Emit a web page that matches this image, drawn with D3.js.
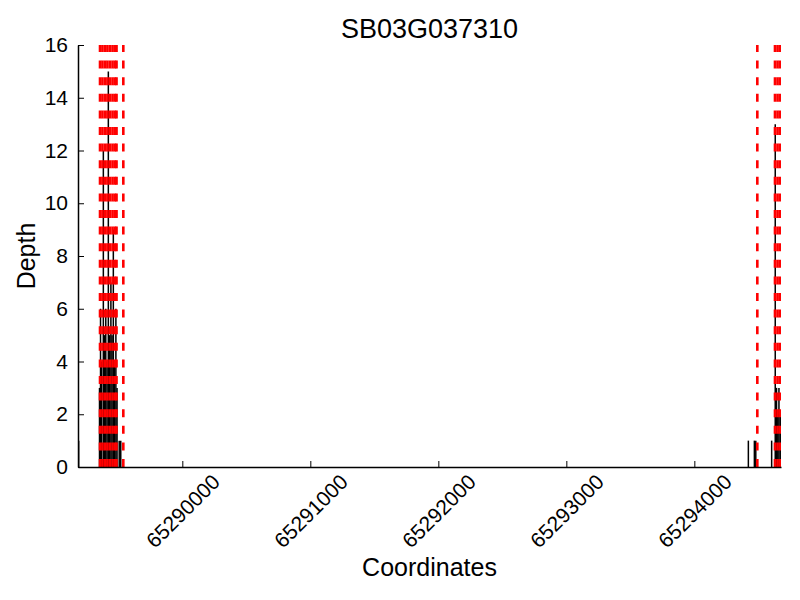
<!DOCTYPE html>
<html>
<head>
<meta charset="utf-8">
<script src="https://cdn.jsdelivr.net/npm/d3@7"></script>
<style>
  body { margin: 0; background: #fff; }
  svg { font-family: "Liberation Sans", Arial, sans-serif; }
</style>
</head>
<body>
<div id="chart"></div>
<script>
//Depth of coverage along the gene, with red dashed marker positions

var title = "SB03G037310";
var xDomain = [65289185, 65294677];
var xTicks = [65290000, 65291000, 65292000, 65293000, 65294000];
var yTicks = [0, 2, 4, 6, 8, 10, 12, 14, 16];

//coverage spikes: position and depth
var positions = [
  65289190,
  65289353, 65289361, 65289369, 65289383, 65289392, 65289402, 65289412,
  65289422, 65289431, 65289442, 65289451, 65289461, 65289470, 65289481,
  65289490, 65289507, 65289519,
  65294422, 65294469, 65294480, 65294604, 65294632, 65294642, 65294652,
  65294661, 65294671
];
var depths = [
  1,
  3, 6, 4, 12, 5, 6, 4,
  15, 5, 7, 5, 9, 4, 6,
  3, 1, 1,
  1, 1, 1, 1, 13, 3, 2,
  3, 2
];

//red dashed marker positions
var markers = [
  65289357, 65289376, 65289396, 65289415, 65289435, 65289455, 65289474,
  65289486, 65289539,
  65294492, 65294630, 65294650, 65294669
];

var width = 800;
var height = 600;
var margin = {left: 78, right: 19, top: 45, bottom: 133};

var svg = d3.select("#chart")
  .append("svg")
  .attr("width", width)
  .attr("height", height);

var x = d3.scaleLinear()
  .domain(xDomain)
  .range([margin.left, width - margin.right]);

var y = d3.scaleLinear()
  .domain([0, 16])
  .range([height - margin.bottom, margin.top]);

svg.append("defs").append("clipPath")
  .attr("id", "plotclip")
  .append("rect")
  .attr("x", margin.left)
  .attr("y", margin.top)
  .attr("width", width - margin.left - margin.right)
  .attr("height", height - margin.top - margin.bottom);

var plot = svg.append("g").attr("clip-path", "url(#plotclip)");

//black depth lines
plot.append("g")
  .selectAll("line")
  .data(positions)
  .enter().append("line")
    .attr("x1", d => x(d))
    .attr("x2", d => x(d))
    .attr("y1", y(0))
    .attr("y2", (d, i) => y(depths[i]))
    .attr("stroke", "#000")
    .attr("stroke-width", 1.5);

//red dashed markers, drawn from the bottom up
plot.append("g")
  .selectAll("line")
  .data(markers)
  .enter().append("line")
    .attr("x1", d => x(d))
    .attr("x2", d => x(d))
    .attr("y1", y(0))
    .attr("y2", y(16) - 10)
    .attr("stroke", "#ff0000")
    .attr("stroke-width", 2.6)
    .attr("stroke-dasharray", "8,8.6");

//axes
var xAxis = svg.append("g")
  .attr("transform", "translate(0," + y(0) + ")")
  .call(d3.axisBottom(x)
    .tickValues(xTicks)
    .tickFormat(d3.format("d"))
    .tickSizeInner(-6)
    .tickSizeOuter(0));

xAxis.selectAll(".tick text")
  .attr("y", 0)
  .attr("dy", 0)
  .attr("text-anchor", "middle")
  .attr("dominant-baseline", "central")
  .attr("transform", "translate(0,44) rotate(-45)")
  .style("font-size", "21px");

var yAxis = svg.append("g")
  .attr("transform", "translate(" + margin.left + ",0)")
  .call(d3.axisLeft(y)
    .tickValues(yTicks)
    .tickSizeInner(-6)
    .tickSizeOuter(0));

yAxis.selectAll(".tick text")
  .attr("x", -10)
  .style("font-size", "21px");

svg.selectAll(".domain").attr("stroke-width", 1.5);
svg.selectAll(".tick line").attr("stroke-width", 1);
svg.selectAll(".tick text").attr("fill", "#000");

//labels
svg.append("text")
  .attr("x", (margin.left + width - margin.right) / 2)
  .attr("y", 38)
  .attr("text-anchor", "middle")
  .style("font-size", "27px")
  .text(title);

svg.append("text")
  .attr("x", (margin.left + width - margin.right) / 2)
  .attr("y", 576)
  .attr("text-anchor", "middle")
  .style("font-size", "25px")
  .text("Coordinates");

svg.append("text")
  .attr("transform", "translate(35," + ((margin.top + height - margin.bottom) / 2) + ") rotate(-90)")
  .attr("text-anchor", "middle")
  .style("font-size", "25px")
  .text("Depth");
</script>
</body>
</html>
